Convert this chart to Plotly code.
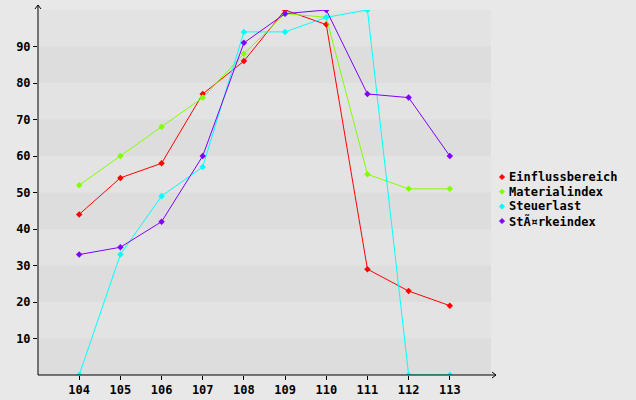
import plotly.graph_objects as go

# ---- data ----
categories = [104, 105, 106, 107, 108, 109, 110, 111, 112, 113]
einfluss = [44, 54, 58, 77, 86, 100, 96, 29, 23, 19]
material = [52, 60, 68, 76, 88, 99, 98, 55, 51, 51]
steuer = [0, 33, 49, 57, 94, 94, 98, 100, 0, 0]
staerke = [33, 35, 42, 60, 91, 99, 100, 77, 76, 60]
series_names = ["Einflussbereich", "Materialindex", "Steuerlast", "StÃ¤rkeindex"]
y_ticks = [10, 20, 30, 40, 50, 60, 70, 80, 90]
series_values = [einfluss, material, steuer, staerke]
colors = ["#ff0000", "#80ff00", "#00ffff", "#8000ff"]

W, H = 636, 400
L, R, T, B = 38, 491, 10, 375
FONT = dict(family="DejaVu Sans Mono", size=12, color="#000000", weight="bold")


def px(x):
    return (x - L) / (R - L)


def py(y):
    return (B - y) / (B - T)


fig = go.Figure()
for name, vals, col in zip(series_names, series_values, colors):
    fig.add_trace(go.Scatter(
        x=categories, y=vals, mode="lines+markers", name=name,
        line=dict(color=col, width=1),
        marker=dict(symbol="diamond", size=5, color=col),
        showlegend=False,
    ))

shapes = []
# alternating bands
for lo in range(0, 100, 20):
    shapes.append(dict(type="rect", xref="paper", yref="y", x0=0, x1=1, y0=lo, y1=lo + 10,
                       fillcolor="#dddddd", line=dict(width=0), layer="below"))
# axes lines with arrows
shapes.append(dict(type="line", xref="paper", yref="paper", x0=px(L), x1=px(L), y0=py(B), y1=py(5),
                   line=dict(color="#000000", width=1)))
shapes.append(dict(type="path", xref="paper", yref="paper",
                   path=f"M {px(L-3)} {py(9)} L {px(L)} {py(5)} L {px(L+3)} {py(9)}",
                   line=dict(color="#000000", width=1)))
shapes.append(dict(type="line", xref="paper", yref="paper", x0=px(L), x1=px(496), y0=py(B), y1=py(B),
                   line=dict(color="#000000", width=1)))
shapes.append(dict(type="path", xref="paper", yref="paper",
                   path=f"M {px(492)} {py(B-3)} L {px(496)} {py(B)} L {px(492)} {py(B+3)}",
                   line=dict(color="#000000", width=1)))

# legend (markers + text)
annotations = []
leg_y0, leg_dy = 177, 14.7
for i, (name, col) in enumerate(zip(series_names, colors)):
    yc = leg_y0 + i * leg_dy
    shapes.append(dict(type="path", xref="paper", yref="paper",
                       path=f"M {px(502-2.5)} {py(yc)} L {px(502)} {py(yc-2.5)} L {px(502+2.5)} {py(yc)} L {px(502)} {py(yc+2.5)} Z",
                       fillcolor=col, line=dict(color=col, width=1)))
    annotations.append(dict(xref="paper", yref="paper", x=px(507), y=py(yc), text=name,
                            showarrow=False, xanchor="left", yanchor="middle", font=FONT))

fig.update_layout(
    width=W, height=H,
    margin=dict(l=L, r=W - R, t=T, b=H - B),
    paper_bgcolor="#e8e8e8", plot_bgcolor="#e3e3e3",
    showlegend=False,
    shapes=shapes, annotations=annotations,
    xaxis=dict(range=[103, 114], tickvals=categories, showgrid=False, zeroline=False,
               showline=False, ticks="outside", ticklen=4, tickcolor="#000000",
               tickfont=FONT, automargin=False),
    yaxis=dict(range=[0, 100], tickvals=y_ticks, showgrid=False, zeroline=False,
               showline=False, ticks="outside", ticklen=4, tickcolor="#000000",
               tickfont=FONT, automargin=False),
)

fig.write_html("out.html", config={"displayModeBar": False},
               post_script="document.body.style.margin='0px';document.body.style.background='#e8e8e8';")
